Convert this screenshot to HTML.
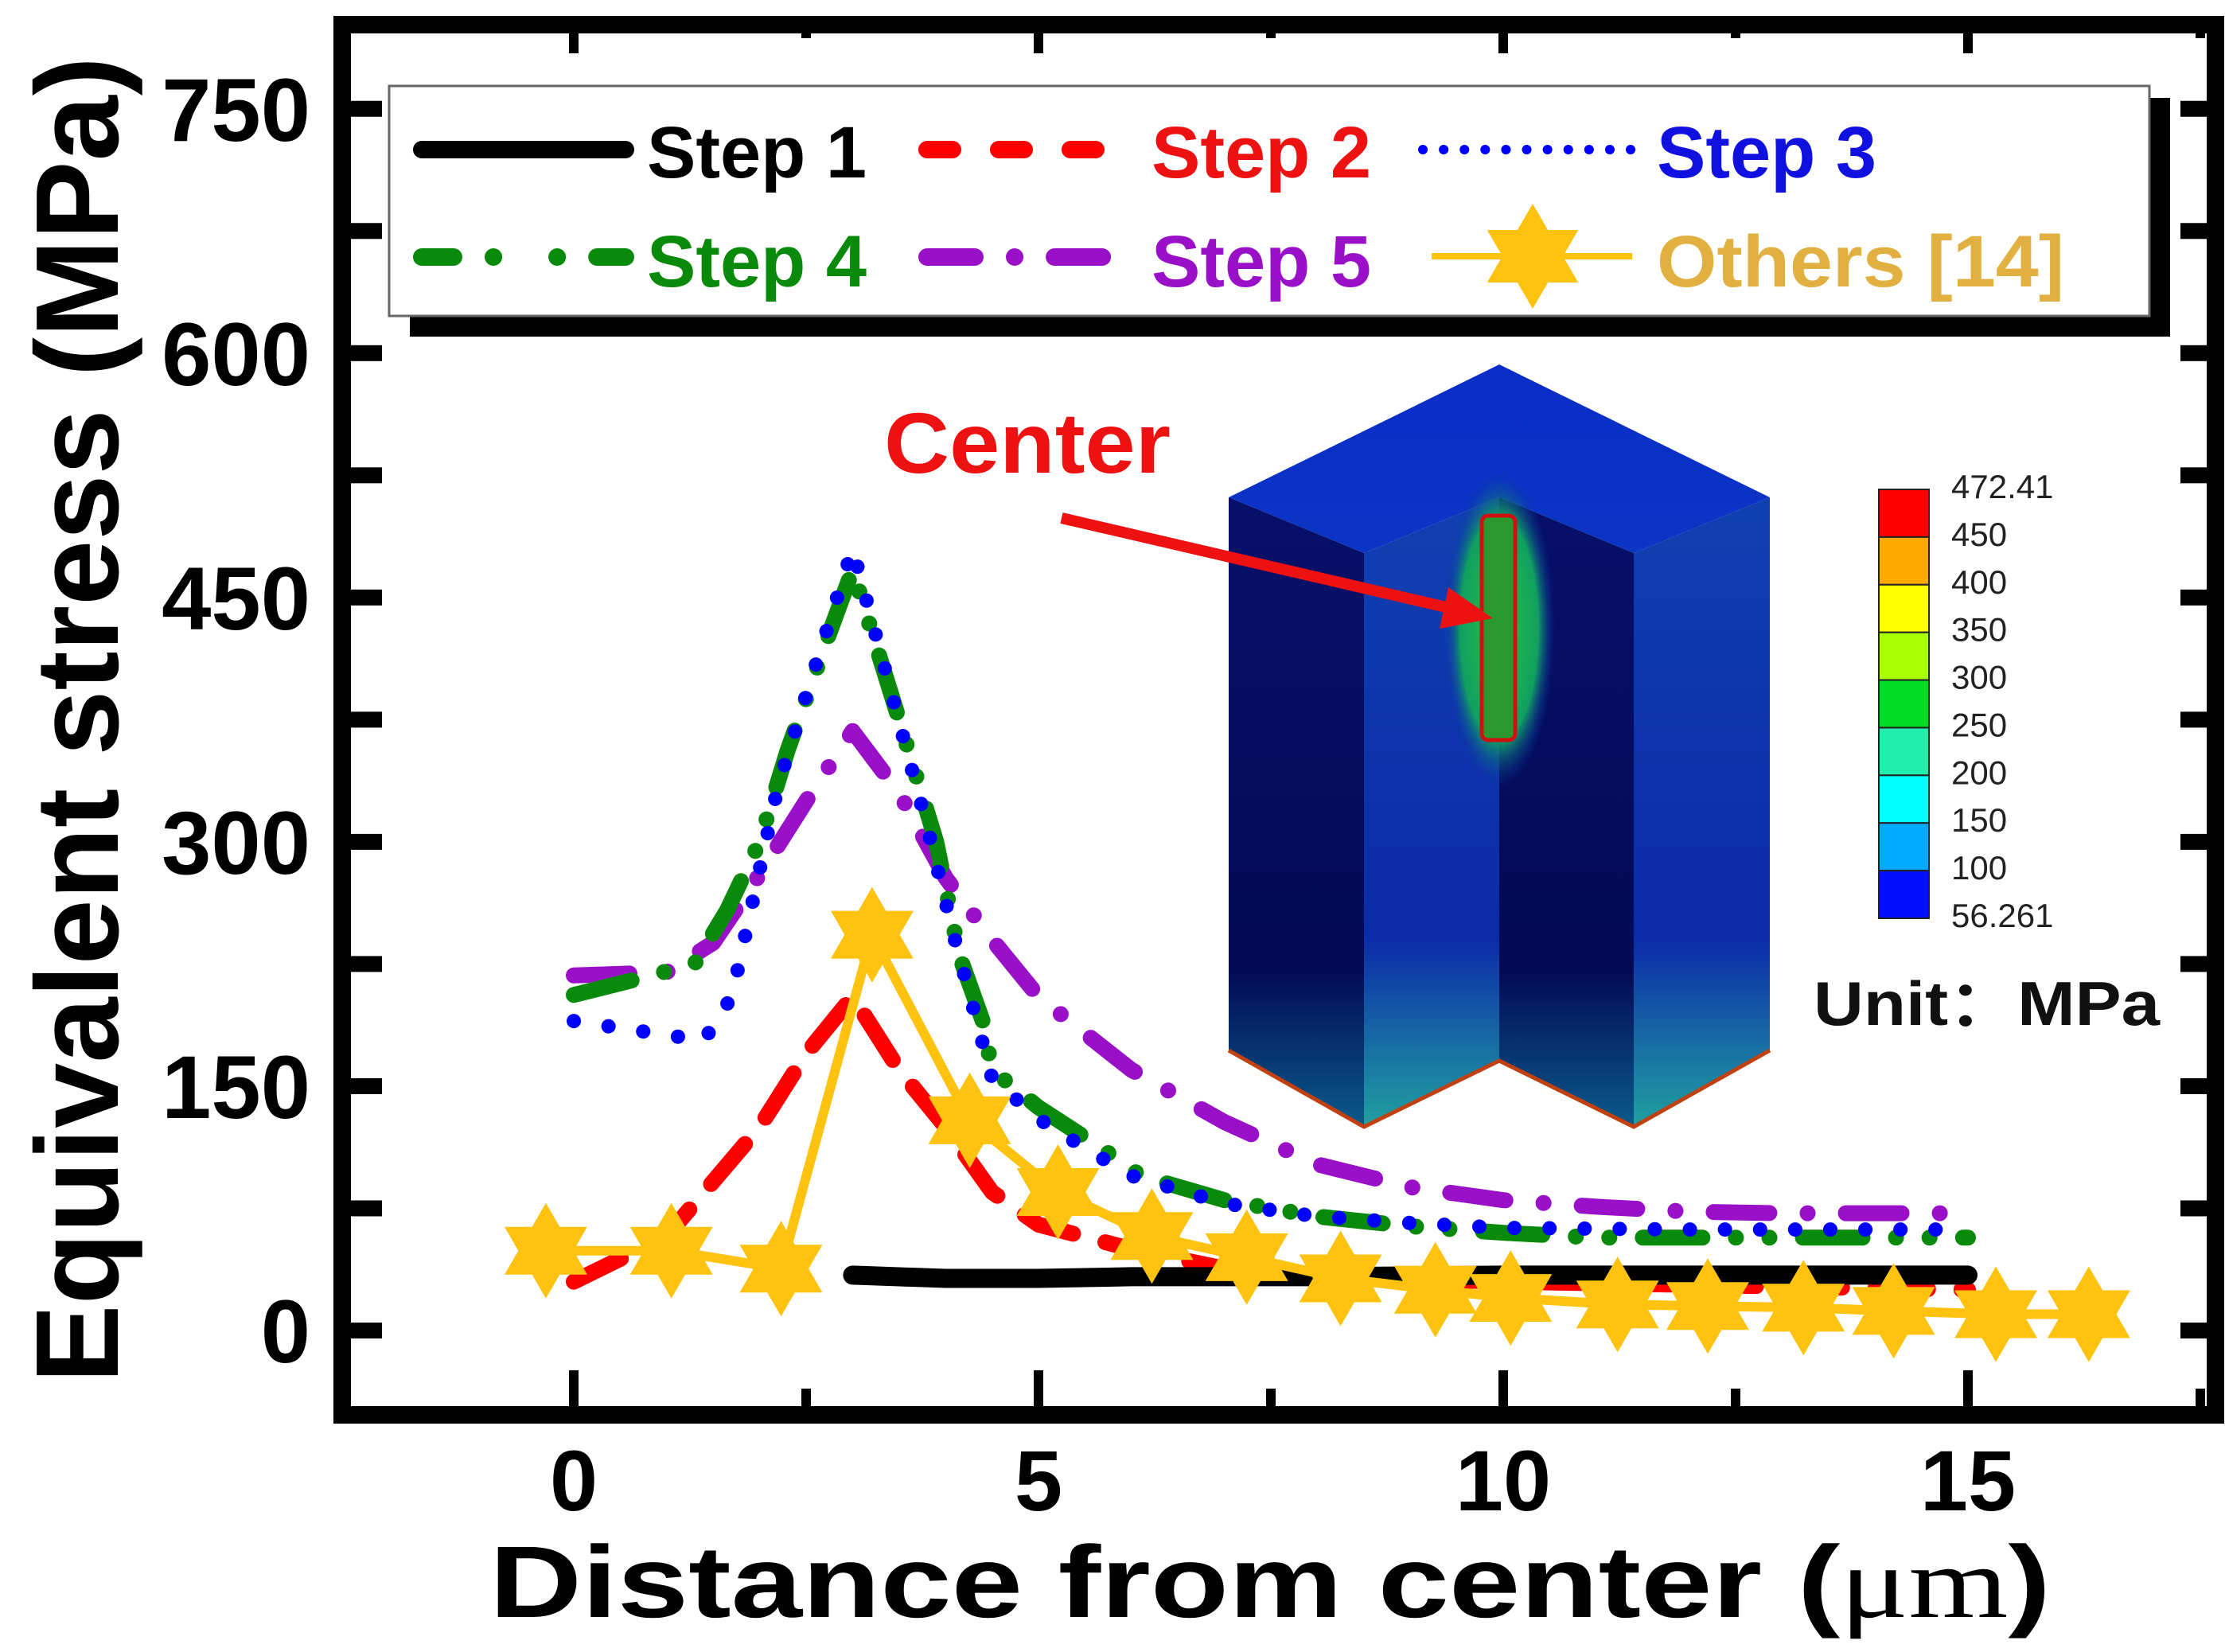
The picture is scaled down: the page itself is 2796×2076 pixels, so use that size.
<!DOCTYPE html>
<html><head><meta charset="utf-8"><style>
html,body{margin:0;padding:0;background:#fff;}
svg{display:block;}
text{font-family:"Liberation Sans",Arial,sans-serif;}
</style></head><body>
<svg id="chart" width="2796" height="2076" viewBox="0 0 2796 2076" xmlns="http://www.w3.org/2000/svg">
<defs>
<linearGradient id="gTop" x1="0" y1="0" x2="0" y2="1"><stop offset="0" stop-color="#0a2cc8"/><stop offset="1" stop-color="#0b35c4"/></linearGradient>
<linearGradient id="gDark" x1="0" y1="0" x2="0" y2="1"><stop offset="0" stop-color="#06106a"/><stop offset="0.75" stop-color="#020a55"/><stop offset="1" stop-color="#0a5a8a"/></linearGradient>
<linearGradient id="gBlue" x1="0" y1="0" x2="0" y2="1"><stop offset="0" stop-color="#1040b0"/><stop offset="0.7" stop-color="#0b2aa8"/><stop offset="1" stop-color="#20a0a0"/></linearGradient>
<radialGradient id="gSlot" cx="0.5" cy="0.5" r="0.5"><stop offset="0" stop-color="#30c040"/><stop offset="0.7" stop-color="#10a060"/><stop offset="1" stop-color="#0b30b0" stop-opacity="0"/></radialGradient>
</defs>
<rect x="0" y="0" width="2796" height="2076" fill="#fff"/>

<g id="inset">
<polygon points="1884,458 2224,625 2053,695 1884,625 1714,695 1544,625" fill="url(#gTop)"/>
<polygon points="1544,625 1714,695 1714,1416 1544,1320" fill="url(#gDark)"/>
<polygon points="1714,695 1884,625 1884,1333 1714,1416" fill="url(#gBlue)"/>
<polygon points="1884,625 2053,695 2053,1416 1884,1333" fill="url(#gDark)"/>
<polygon points="2053,695 2224,625 2224,1320 2053,1416" fill="url(#gBlue)"/>
<ellipse cx="1884" cy="790" rx="70" ry="200" fill="url(#gSlot)"/>
<rect x="1862" y="648" width="42" height="282" rx="8" fill="#2a9a30" stroke="#d01010" stroke-width="5"/>
<polyline points="1544,1320 1714,1416 1884,1333 2053,1416 2224,1320" fill="none" stroke="#c04010" stroke-width="5"/>
</g>

<g id="colorbar"></g>
<text x="2279" y="1288" font-size="78" font-weight="bold" fill="#111" textLength="435" lengthAdjust="spacingAndGlyphs">Unit：MPa</text>

<text x="1111" y="594" font-size="108" font-weight="bold" fill="#ee1111" textLength="360" lengthAdjust="spacingAndGlyphs">Center</text>
<line x1="1334" y1="651" x2="1830" y2="766" stroke="#ee1111" stroke-width="14"/>
<polygon points="1876,777 1820,738 1809,790" fill="#ee1111"/>

<g id="series"></g>

<g id="axes"></g>

<g id="legend">
<rect x="515" y="123" width="2212" height="300" fill="#000"/>
<rect x="489" y="108" width="2212" height="289" fill="#fff" stroke="#666" stroke-width="3"/>
<line x1="530" y1="188" x2="786" y2="188" stroke="#000" stroke-width="22" stroke-linecap="round"/>
<text x="813" y="223" font-size="92" font-weight="bold" fill="#000">Step 1</text>
<line x1="1165" y1="188" x2="1395" y2="188" stroke="#ff0000" stroke-width="22" stroke-linecap="round" stroke-dasharray="32,58"/>
<text x="1447" y="223" font-size="92" font-weight="bold" fill="#ee1111">Step 2</text>
<line x1="1788" y1="188" x2="2051" y2="188" stroke="#0000ff" stroke-width="12" stroke-linecap="round" stroke-dasharray="0.1,26"/>
<text x="2082" y="223" font-size="92" font-weight="bold" fill="#1010e0">Step 3</text>
<line x1="530" y1="323" x2="786" y2="323" stroke="#0a8a0a" stroke-width="22" stroke-linecap="round" stroke-dasharray="40,50,0.1,80,0.1,50"/>
<text x="813" y="360" font-size="92" font-weight="bold" fill="#0a8a0a">Step 4</text>
<line x1="1165" y1="323" x2="1395" y2="323" stroke="#9a10c8" stroke-width="22" stroke-linecap="round" stroke-dasharray="60,50,0.1,50"/>
<text x="1447" y="360" font-size="92" font-weight="bold" fill="#9a10c8">Step 5</text>
<line x1="1799" y1="322" x2="2051" y2="322" stroke="#ffc20e" stroke-width="8"/>
<polygon id="legendStar" fill="#ffc20e"/>
<text x="2082" y="360" font-size="92" font-weight="bold" fill="#e2b040" textLength="512" lengthAdjust="spacingAndGlyphs">Others [14]</text>
</g>

<text transform="translate(148,1738) rotate(-90)" font-size="148" font-weight="bold" fill="#000" textLength="1667" lengthAdjust="spacingAndGlyphs">Equivalent stress (MPa)</text>
<text x="615" y="2032" font-size="128" font-weight="bold" fill="#000" textLength="1962" lengthAdjust="spacingAndGlyphs">Distance from center (<tspan font-family="Liberation Serif" font-weight="normal">μm</tspan>)</text>
</svg>
<script>
// ---- data ----
const xTicks = [0, 5, 10, 15];
const yTicks = [0, 150, 300, 450, 600, 750];
const step1X = [3, 4, 5, 6, 8, 10, 12, 15];
const step1Y = [34, 32, 32, 33, 33, 34, 34, 34];
const step2X = [0, 1, 2, 2.5, 3, 3.5, 4, 4.5, 5, 6, 7, 8, 10, 12, 15];
const step2Y = [30, 58, 125, 170, 205, 160, 125, 85, 65, 50, 38, 33, 30, 28, 25];
const step3X = [0, 0.7, 1.4, 1.7, 2.2, 2.6, 3, 3.4, 3.8, 4.1, 4.5, 5, 5.5, 6, 7, 8, 9, 10, 12, 15];
const step3Y = [190, 184, 178, 205, 335, 408, 480, 395, 310, 240, 155, 130, 112, 95, 78, 70, 66, 63, 62, 62];
const step4X = [0, 0.7, 1.3, 1.65, 2, 2.3, 2.75, 3, 3.5, 3.9, 4.15, 4.4, 4.5, 5, 5.7, 6.1, 7, 8, 9, 10, 11, 15];
const step4Y = [206, 216, 225, 258, 300, 356, 428, 467, 375, 300, 230, 190, 160, 137, 111, 95, 80, 70, 64, 60, 57, 57];
const step5X = [0, 1, 1.5, 2, 2.5, 3, 3.5, 4, 4.5, 5, 6, 7, 8, 9, 10, 11, 12, 13, 15];
const step5Y = [218, 220, 238, 280, 325, 368, 330, 278, 240, 205, 160, 128, 102, 88, 80, 76, 73, 72, 72];
const othersX = [-0.3, 1.05, 2.23, 3.21, 4.26, 5.21, 6.22, 7.24, 8.25, 9.27, 10.08, 11.23, 12.2, 13.23, 14.2, 15.3, 16.3];
const othersY = [49, 49, 38, 243, 129, 85, 58, 45, 32, 25, 20, 16, 15, 14, 12, 10, 10];
const cbLabels = ["472.41", "450", "400", "350", "300", "250", "200", "150", "100", "56.261"];
const cbColors = ["#ff0000", "#ffaa00", "#ffff00", "#aaff00", "#00dd20", "#20eeaa", "#00ffff", "#00aaff", "#0010ff"];

// ---- scales ----
const NS = "http://www.w3.org/2000/svg";
const sx = v => 721 + v * 116.8;
const sy = v => 1672 - v * 2.047;
function mk(tag, attrs, parent) {
  const e = document.createElementNS(NS, tag);
  for (const k in attrs) e.setAttribute(k, attrs[k]);
  parent.appendChild(e);
  return e;
}
function starPts(cx, cy, R) {
  const r = R / Math.sqrt(3), p = [];
  for (let i = 0; i < 12; i++) {
    const a = -Math.PI / 2 + i * Math.PI / 6, rr = i % 2 ? r : R;
    p.push((cx + rr * Math.cos(a)).toFixed(1) + "," + (cy + rr * Math.sin(a)).toFixed(1));
  }
  return p.join(" ");
}
document.getElementById("legendStar").setAttribute("points", starPts(1926, 322, 66));

// ---- series ----
const sg = document.getElementById("series");
function line(xs, ys, color, w, dash, name) {
  const pts = xs.map((x, i) => sx(x).toFixed(1) + "," + sy(ys[i]).toFixed(1)).join(" ");
  const el = mk("polyline", {points: pts, fill: "none", stroke: color, "stroke-width": w, "stroke-linecap": "round", "stroke-linejoin": "round"}, sg);
  if (dash) el.setAttribute("stroke-dasharray", dash);
  
  
}
line(step5X, step5Y, "#9a10c8", 20, "70,48,0.1,48", "series-step5");
line(step4X, step4Y, "#0a8a0a", 20, "75,42,0.1,42,0.1,42", "series-step4");
line(step3X, step3Y, "#0000ff", 18, "0.1,44", "series-step3");
line(step2X, step2Y, "#ff0000", 20, "66,42", "series-step2");
line(step1X, step1Y, "#000000", 24, null, "series-step1");
line(othersX, othersY, "#ffc20e", 12, null, "series-others-line");
othersX.forEach((x, i) => {
  const s = mk("polygon", {points: starPts(sx(x), sy(othersY[i]), 60), fill: "#ffc20e"}, sg);
  
  
});

// ---- colorbar ----
const cb = document.getElementById("colorbar");
const segH = (1154 - 615) / cbColors.length;
cbColors.forEach((c, i) => {
  const r = mk("rect", {x: 2361, y: 615 + i * segH, width: 63, height: segH, fill: c, stroke: "#222", "stroke-width": 2}, cb);
  
  
});
cbLabels.forEach((l, i) => {
  const t = mk("text", {x: 2452, y: 626 + i * segH, "font-size": 42, fill: "#222"}, cb);
  t.textContent = l;
  
  
});

// ---- axes ----
const ax = document.getElementById("axes");
const fr = mk("rect", {x: 430, y: 31, width: 2354, height: 1747, fill: "none", stroke: "#000", "stroke-width": 22}, ax);


for (let v = -75; v <= 825; v += 75) {
  const y = sy(v);
  if (y < 45 || y > 1765) continue;
  const t1 = mk("rect", {x: 430, y: y - 10, width: 50, height: 20, fill: "#000"}, ax);
  
  
  const t2 = mk("rect", {x: 2740, y: y - 10, width: 44, height: 20, fill: "#000"}, ax);
  
  
}
for (let v = -2.5; v <= 17.5; v += 2.5) {
  const x = sx(v);
  if (x < 445 || x > 2770) continue;
  const major = Math.abs(v % 5) < 1e-9;
  const b = mk("rect", {x: x - 6, y: major ? 1722 : 1745, width: 12, height: major ? 56 : 33, fill: "#000"}, ax);
  
  
  const t = mk("rect", {x: x - 6, y: 31, width: 12, height: major ? 36 : 17, fill: "#000"}, ax);
  
  
}
yTicks.forEach(v => {
  const t = mk("text", {x: 390, y: sy(v) + 40, "font-size": 112, "font-weight": "bold", "text-anchor": "end", fill: "#000"}, ax);
  t.textContent = v;
  
  
});
xTicks.forEach(v => {
  const t = mk("text", {x: sx(v), y: 1898, "font-size": 108, "font-weight": "bold", "text-anchor": "middle", fill: "#000"}, ax);
  t.textContent = v;
  
  
});
</script>
</body></html>
